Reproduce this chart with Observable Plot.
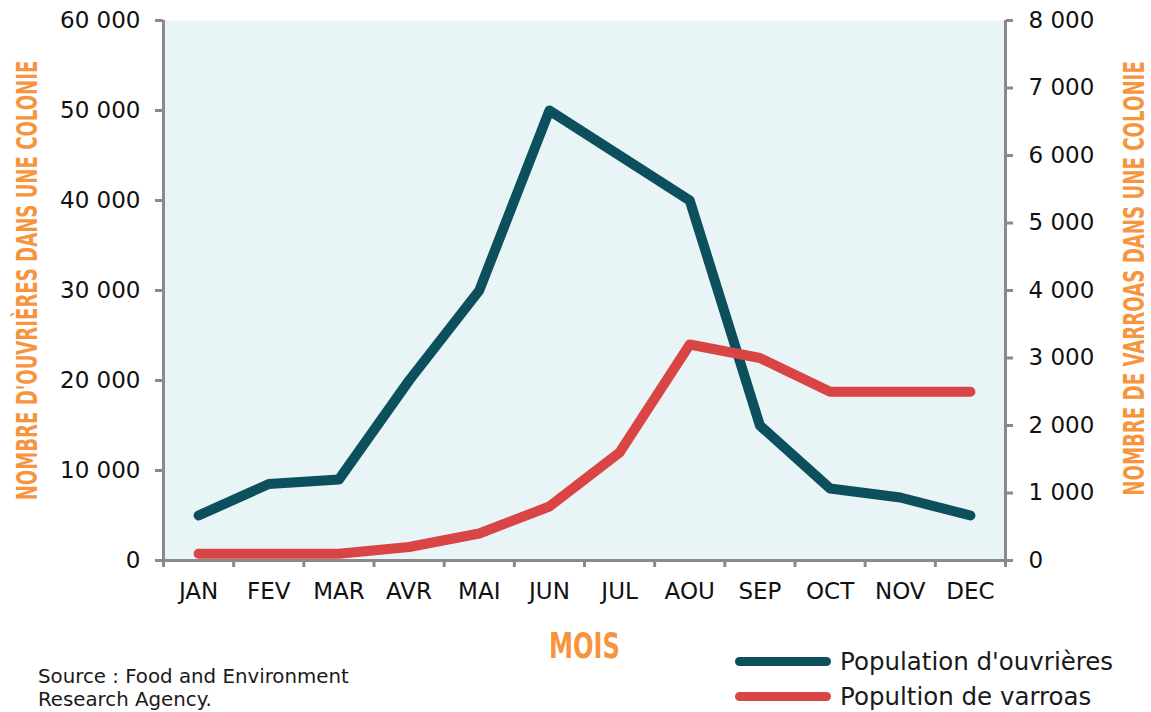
<!DOCTYPE html>
<html>
<head>
<meta charset="utf-8">
<script src="https://cdn.jsdelivr.net/npm/d3@7"></script>
<script src="https://cdn.jsdelivr.net/npm/@observablehq/plot@0.6"></script>
<style>
  html, body { margin: 0; padding: 0; background: #fff; }
  #wrap { position: relative; width: 1151px; height: 712px; overflow: hidden; }
  #foot { position: relative; width: 1151px; height: 42px; font-family: "DejaVu Sans", Verdana, sans-serif; color: #1a1a1a; }
  .src { position: absolute; left: 38px; top: -5px; font-size: 19.8px; line-height: 23px; white-space: nowrap; }
  .leg { position: absolute; left: 735px; font-size: 24.5px; display: flex; align-items: center; white-space: nowrap; }
  .leg span.sw { display: inline-block; width: 96px; height: 9px; border-radius: 5px; margin-right: 9px; }
</style>
</head>
<body>
<div id="wrap"></div>
<script>
const months = ["JAN","FEV","MAR","AVR","MAI","JUN","JUL","AOU","SEP","OCT","NOV","DEC"];
const workers = [5000,8500,9000,20000,30000,50000,45000,40000,15000,8000,7000,5000];
const varroas = [100,100,100,200,400,800,1600,3200,3000,2500,2500,2500];
const leftTicks = [0,10000,20000,30000,40000,50000,60000];
const rightTicks = [0,1000,2000,3000,4000,5000,6000,7000,8000];
const leftLabel = "NOMBRE D'OUVRIÈRES DANS UNE COLONIE";
const rightLabel = "NOMBRE DE VARROAS DANS UNE COLONIE";
const xLabel = "MOIS";
const seriesNames = ["Population d'ouvrières", "Popultion de varroas"];
const sourceText = ["Source : Food and Environment", "Research Agency."];

const ratio = 60000 / 8000;
const teal = "#0c4f5d", red = "#d94444", gray = "#8a8a8a", orange = "#f7953f";
const fmt = d => d3.format(",")(d).replace(/,/g, " ");

const wData = months.map((m, i) => ({x: i + 0.5, y: workers[i]}));
const vData = months.map((m, i) => ({x: i + 0.5, y: varroas[i] * ratio}));

const chart = Plot.plot({
  width: 1151,
  height: 670,
  marginLeft: 163,
  marginRight: 146,
  marginTop: 20,
  marginBottom: 110,
  style: {fontFamily: "DejaVu Sans, Verdana, sans-serif", fontSize: "23px", color: "#111", background: "#fff"},
  x: {domain: [0, 12]},
  y: {domain: [0, 60000]},
  marks: [
    Plot.frame({fill: "#e9f4f7", stroke: "none"}),
    Plot.axisX({ticks: d3.range(0, 13), tickFormat: () => "", tickSize: 7, stroke: gray, strokeWidth: 3, label: null}),
    Plot.axisX({ticks: months.map((m, i) => i + 0.5), tickFormat: d => months[Math.floor(d)], tickSize: 0, tickPadding: 22, fontSize: 23, fill: "#111", label: null}),
    Plot.axisY({ticks: leftTicks, tickFormat: fmt, tickSize: 8, tickPadding: 15, stroke: gray, strokeWidth: 3, fontSize: 23, fill: "#111", label: null}),
    Plot.axisY({anchor: "right", ticks: rightTicks.map(d => d * ratio), tickFormat: d => fmt(Math.round(d / ratio)), tickSize: 7, tickPadding: 16, stroke: gray, strokeWidth: 3, fontSize: 23, fill: "#111", label: null}),
    Plot.ruleX([0, 12], {stroke: gray, strokeWidth: 3}),
    Plot.ruleY([0], {stroke: gray, strokeWidth: 3}),
    Plot.line(wData, {x: "x", y: "y", stroke: teal, strokeWidth: 10, strokeLinejoin: "round", strokeLinecap: "round"}),
    Plot.line(vData, {x: "x", y: "y", stroke: red, strokeWidth: 10, strokeLinejoin: "round", strokeLinecap: "round"}),
    Plot.text([leftLabel], {frameAnchor: "left", textAnchor: "middle", lineAnchor: "middle", dx: -135, dy: -10, rotate: -90, fill: orange, fontSize: 28, fontWeight: "bold", fontFamily: "DejaVu Sans Condensed, DejaVu Sans", className: "ylab-l"}),
    Plot.text([rightLabel], {frameAnchor: "right", textAnchor: "middle", lineAnchor: "middle", dx: 130, dy: -12, rotate: -90, fill: orange, fontSize: 28, fontWeight: "bold", fontFamily: "DejaVu Sans Condensed, DejaVu Sans", className: "ylab-r"}),
    Plot.text([xLabel], {frameAnchor: "bottom", dy: 97, fill: orange, fontSize: 36, fontWeight: "bold", fontFamily: "DejaVu Sans Condensed, DejaVu Sans", className: "xlab"})
  ]
});

const wrap = document.getElementById("wrap");
wrap.appendChild(chart);
const svg = d3.select(chart);
function squeeze(sel, target) {
  svg.selectAll(sel).each(function() {
    const len = this.getComputedTextLength();
    if (!len) return;
    const t = this.getAttribute("transform") || "";
    this.setAttribute("transform", t + ` scale(${target / len},1)`);
  });
}
squeeze(".ylab-l text", 440);
squeeze(".ylab-r text", 435);
squeeze(".xlab text", 71);

const foot = document.createElement("div");
foot.id = "foot";
foot.innerHTML =
  `<div class="src">${sourceText.join("<br>")}</div>` +
  `<div class="leg" style="top:-23px"><span class="sw" style="background:${teal}"></span>${seriesNames[0]}</div>` +
  `<div class="leg" style="top:12px"><span class="sw" style="background:${red}"></span>${seriesNames[1]}</div>`;
wrap.appendChild(foot);
</script>
</body>
</html>
